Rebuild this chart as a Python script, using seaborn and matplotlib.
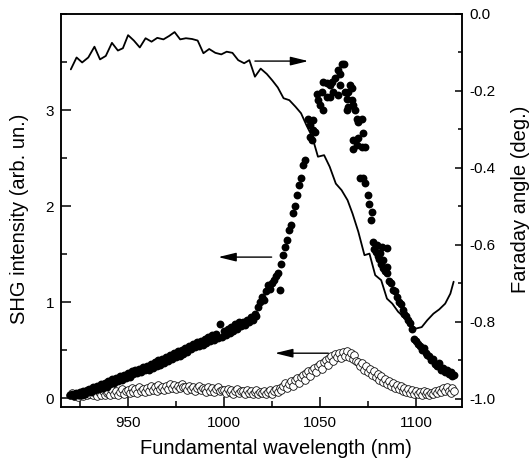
import numpy as np
import matplotlib
matplotlib.use("Agg")
import matplotlib.pyplot as plt
from matplotlib.ticker import MultipleLocator, FixedLocator
import seaborn as sns

# --- SHG, filled circles (left axis) ---
rise_nm = list(range(920, 1043))
rise_shg = [0.03, 0.05, 0.02, 0.06, 0.03, 0.07, 0.04, 0.08, 0.05, 0.09,
            0.10, 0.07, 0.12, 0.09, 0.13, 0.10, 0.15, 0.11, 0.16, 0.12,
            0.18, 0.15, 0.20, 0.16, 0.21, 0.18, 0.23, 0.19, 0.24, 0.21,
            0.26, 0.22, 0.28, 0.25, 0.30, 0.26, 0.31, 0.27, 0.33, 0.29,
            0.34, 0.30, 0.36, 0.32, 0.38, 0.34, 0.40, 0.35, 0.41, 0.37,
            0.43, 0.39, 0.45, 0.41, 0.47, 0.43, 0.49, 0.44, 0.50, 0.46,
            0.52, 0.48, 0.55, 0.51, 0.57, 0.53, 0.59, 0.54, 0.60, 0.56,
            0.62, 0.58, 0.64, 0.60, 0.66, 0.61, 0.67, 0.63, 0.77, 0.64,
            0.70, 0.66, 0.72, 0.68, 0.74, 0.70, 0.77, 0.72, 0.79, 0.75,
            0.79, 0.76, 0.82, 0.79, 0.85, 0.82, 0.88, 0.86, 0.95, 1.00,
            1.06, 1.02, 1.12, 1.18, 1.14, 1.20, 1.23, 1.27, 1.30, 1.13,
            1.40, 1.49, 1.58, 1.65, 1.75, 1.80, 1.93, 2.00, 2.12, 2.22,
            2.29, 2.43, 2.48]

peak_nm = [1044.0, 1044.9, 1044.9, 1045.8, 1046.6, 1046.6, 1047.5, 1048.3, 1049.2, 1050.0,
           1050.9, 1051.8, 1051.8, 1053.5, 1053.5, 1055.3, 1055.3, 1056.1, 1057.0, 1057.9,
           1059.6, 1059.6, 1060.5, 1060.5, 1061.3, 1062.5, 1063.1, 1064.0, 1064.0, 1064.8,
           1064.8, 1065.7, 1066.6, 1066.6, 1067.4, 1067.4, 1067.4, 1068.3, 1069.1, 1069.1,
           1070.0, 1070.0, 1070.9, 1071.7, 1071.7, 1072.6, 1072.6, 1073.5, 1073.5, 1075.2,
           1075.7, 1076.6, 1077.0, 1077.8, 1079.6, 1081.3, 1082.2, 1083.0, 1084.8, 1084.8]
peak_shg = [2.91, 2.84, 2.72, 2.69, 2.90, 2.79, 2.77, 3.17, 3.10, 3.05,
            3.19, 3.29, 3.00, 3.28, 3.14, 3.26, 3.14, 3.29, 3.19, 3.33,
            3.42, 3.16, 3.38, 3.26, 3.48, 3.48, 3.19, 3.12, 3.00, 3.19,
            3.03, 3.26, 3.23, 3.10, 3.05, 2.69, 2.60, 3.00, 2.91, 2.64,
            2.88, 2.71, 2.29, 2.91, 2.62, 2.76, 2.29, 2.62, 2.24, 2.12,
            2.02, 1.86, 1.94, 1.63, 1.60, 1.51, 1.58, 1.44, 1.56, 1.37]

fall_nm = list(range(1078, 1121))
fall_shg = [1.55, 1.52, 1.48, 1.45, 1.40, 1.36, 1.33, 1.30, 1.22, 1.20,
            1.13, 1.12, 1.05, 1.00, 0.98, 0.92, 0.88, 0.86, 0.82, 0.78,
            0.72, 0.62, 0.60, 0.57, 0.55, 0.50, 0.52, 0.47, 0.45, 0.44,
            0.40, 0.41, 0.36, 0.34, 0.37, 0.30, 0.32, 0.27, 0.29, 0.25,
            0.27, 0.23, 0.24]

# --- SHG, open circles (left axis) ---
open_nm = list(range(920, 1121))
open_shg = [0.03, 0.06, 0.02, 0.05, 0.01, 0.04, 0.06, 0.02, 0.05, 0.03,
            0.05, 0.08, 0.03, 0.06, 0.02, 0.07, 0.04, 0.08, 0.03, 0.06,
            0.07, 0.04, 0.09, 0.05, 0.08, 0.03, 0.07, 0.10, 0.05, 0.08,
            0.09, 0.06, 0.11, 0.07, 0.10, 0.06, 0.12, 0.08, 0.10, 0.07,
            0.11, 0.08, 0.13, 0.09, 0.12, 0.08, 0.14, 0.10, 0.12, 0.09,
            0.13, 0.10, 0.15, 0.11, 0.14, 0.10, 0.13, 0.11, 0.15, 0.12,
            0.12, 0.09, 0.13, 0.10, 0.12, 0.08, 0.11, 0.13, 0.09, 0.11,
            0.10, 0.07, 0.12, 0.08, 0.11, 0.07, 0.10, 0.12, 0.08, 0.09,
            0.09, 0.06, 0.10, 0.07, 0.09, 0.05, 0.08, 0.10, 0.06, 0.08,
            0.08, 0.05, 0.09, 0.06, 0.08, 0.05, 0.07, 0.09, 0.05, 0.07,
            0.06, 0.08, 0.05, 0.07, 0.09, 0.05, 0.08, 0.10, 0.07, 0.11,
            0.09, 0.13, 0.16, 0.11, 0.15, 0.18, 0.13, 0.19, 0.21, 0.16,
            0.22, 0.24, 0.19, 0.26, 0.28, 0.23, 0.30, 0.32, 0.27, 0.34,
            0.36, 0.31, 0.38, 0.40, 0.35, 0.42, 0.44, 0.39, 0.46, 0.43,
            0.47, 0.42, 0.48, 0.44, 0.49, 0.43, 0.47, 0.41, 0.45, 0.39,
            0.38, 0.34, 0.37, 0.30, 0.34, 0.27, 0.31, 0.24, 0.28, 0.22,
            0.25, 0.19, 0.23, 0.17, 0.20, 0.15, 0.18, 0.13, 0.16, 0.11,
            0.14, 0.10, 0.13, 0.08, 0.11, 0.07, 0.10, 0.06, 0.09, 0.05,
            0.08, 0.05, 0.07, 0.04, 0.08, 0.05, 0.07, 0.03, 0.06, 0.05,
            0.08, 0.06, 0.09, 0.07, 0.11, 0.08, 0.12, 0.08, 0.06, 0.11,
            0.08]

# --- Faraday angle (right axis) ---
faraday_nm = [920.4, 923.4, 926.3, 929.5, 932.7, 935.6, 938.6, 941.8, 944.9, 947.5,
              950.2, 953.2, 956.3, 959.3, 962.4, 965.4, 968.6, 971.6, 974.4, 977.3,
              980.3, 983.5, 986.4, 989.4, 992.4, 995.6, 998.7, 1001.5, 1004.5, 1007.5,
              1010.6, 1013.3, 1016.2, 1019.2, 1022.4, 1025.3, 1028.1, 1031.1, 1034.1, 1037.3,
              1040.2, 1043.0, 1046.0, 1049.0, 1052.2, 1055.1, 1058.3, 1061.3, 1064.4, 1067.0,
              1070.0, 1073.2, 1075.8, 1078.8, 1081.9, 1084.9, 1087.7, 1090.7, 1093.7, 1096.8,
              1099.8, 1103.0, 1105.9, 1109.1, 1112.1, 1115.2, 1117.9, 1119.6]
faraday_deg = [-0.144, -0.113, -0.126, -0.113, -0.085, -0.118, -0.109, -0.075, -0.095, -0.089,
               -0.055, -0.069, -0.087, -0.063, -0.072, -0.062, -0.066, -0.057, -0.047, -0.066,
               -0.063, -0.065, -0.069, -0.102, -0.091, -0.101, -0.105, -0.098, -0.101, -0.120,
               -0.128, -0.120, -0.163, -0.142, -0.156, -0.173, -0.191, -0.219, -0.224, -0.241,
               -0.258, -0.289, -0.319, -0.371, -0.367, -0.397, -0.441, -0.458, -0.484, -0.519,
               -0.566, -0.627, -0.623, -0.679, -0.692, -0.740, -0.753, -0.774, -0.788, -0.805,
               -0.818, -0.814, -0.796, -0.779, -0.768, -0.753, -0.727, -0.696]

sns.set_style("ticks")
plt.rcParams['font.family'] = ['Liberation Sans', 'DejaVu Sans']
plt.rcParams['axes.unicode_minus'] = False
for key in ['text.color', 'axes.labelcolor', 'axes.edgecolor', 'xtick.color', 'ytick.color']:
    plt.rcParams[key] = 'black'

fig = plt.figure(figsize=(5.31, 4.59), dpi=100)
ax = fig.add_axes([0.1149, 0.1139, 0.7546, 0.8556])

filled_nm = rise_nm + peak_nm + fall_nm
filled_shg = rise_shg + peak_shg + fall_shg

sns.scatterplot(x=open_nm, y=open_shg, ax=ax, s=30, color='white',
                edgecolor='black', linewidth=0.55, zorder=2)
sns.scatterplot(x=filled_nm, y=filled_shg, ax=ax, s=32, color='black',
                edgecolor='black', linewidth=0, zorder=3)

ax.set_xlim(915.3, 1123.8)
ax.set_ylim(-0.087, 4.0)
ax.xaxis.set_major_locator(FixedLocator([950, 1000, 1050, 1100]))
ax.xaxis.set_minor_locator(MultipleLocator(25))
ax.yaxis.set_major_locator(FixedLocator([0, 1, 2, 3]))
ax.yaxis.set_minor_locator(MultipleLocator(0.5))
ax.tick_params(which='both', direction='in', labelsize=11, width=1.1)
ax.tick_params(which='major', length=7.2)
ax.tick_params(which='minor', length=4)
ax.tick_params(axis='x', pad=6.5)
ax.tick_params(axis='y', pad=5)
for sp in ax.spines.values():
    sp.set_linewidth(1.1)
ax.set_xlabel('')
ax.set_ylabel('')

ax2 = ax.twinx()
sns.lineplot(x=faraday_nm, y=faraday_deg, ax=ax2, color='black', lw=1.3,
             estimator=None, sort=False)
ax2.set_ylim(-1.021, 0.0)
ax2.yaxis.set_major_locator(FixedLocator([-1.0, -0.8, -0.6, -0.4, -0.2, 0.0]))
ax2.yaxis.set_minor_locator(MultipleLocator(0.1))
ax2.yaxis.set_major_formatter(matplotlib.ticker.FormatStrFormatter('%.1f'))
ax2.tick_params(which='both', direction='in', labelsize=11, width=1.1, pad=5.5)
ax2.tick_params(which='major', length=5)
ax2.tick_params(which='minor', length=3)
for sp in ax2.spines.values():
    sp.set_linewidth(1.1)
ax2.set_ylabel('')

# arrows pointing to the axis each curve belongs to
arrow = dict(arrowstyle='-|>,head_length=0.9,head_width=0.22', color='black',
             lw=1.0, mutation_scale=12, shrinkA=0, shrinkB=0)
ax.annotate('', xy=(1044.0, 3.51), xytext=(1016.2, 3.51), arrowprops=arrow)
ax.annotate('', xy=(997.1, 1.47), xytext=(1024.9, 1.47), arrowprops=arrow)
ax.annotate('', xy=(1026.6, 0.47), xytext=(1054.4, 0.47), arrowprops=arrow)

fig.text(275.5 / 531, 1 - 448 / 459, 'Fundamental wavelength (nm)', fontsize=14.5,
         ha='center', va='center')
fig.text(20 / 531, 1 - 219 / 459, 'SHG intensity (arb. un.)', fontsize=14.5,
         ha='center', va='center', rotation=90)
fig.text(520 / 531, 1 - 199 / 459, 'Faraday angle (deg.)', fontsize=14.5,
         ha='center', va='center', rotation=90)

fig.savefig('out.png', dpi=100)
